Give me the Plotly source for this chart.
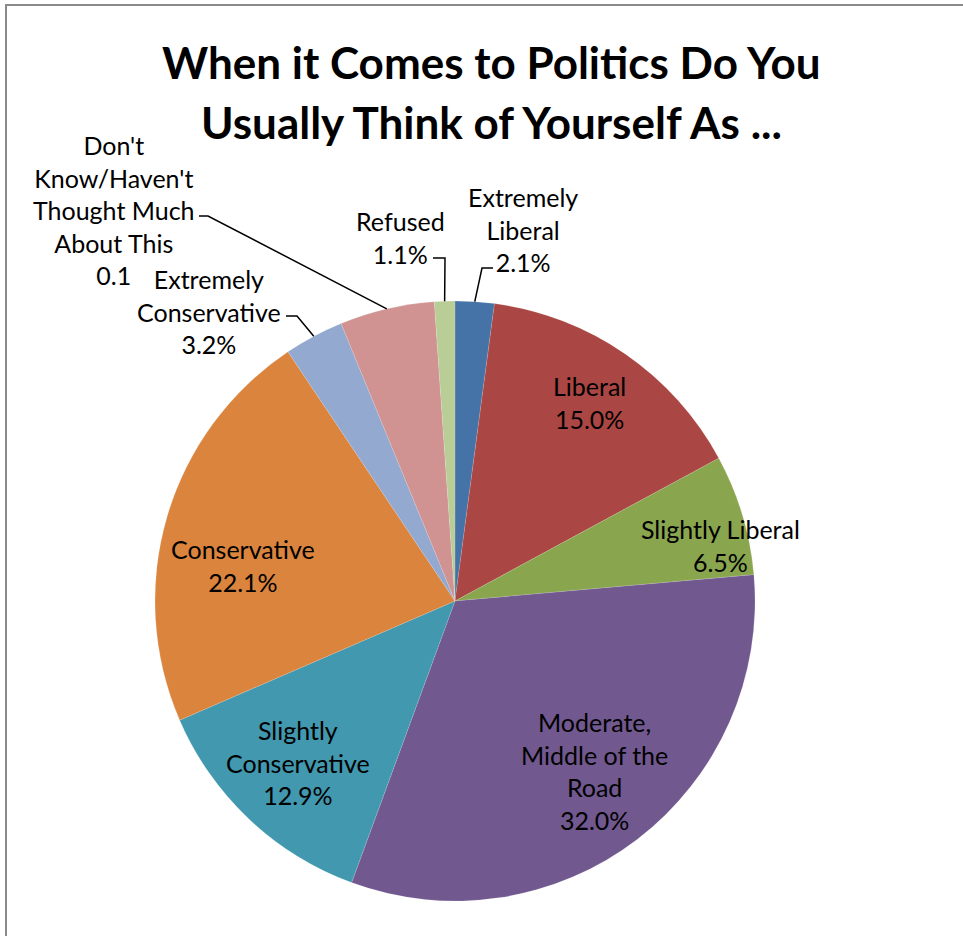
import math
import plotly.graph_objects as go

# ---- data ----
categories = ["Extremely Liberal", "Liberal", "Slightly Liberal",
              "Moderate, Middle of the Road", "Slightly Conservative",
              "Conservative", "Extremely Conservative",
              "Don't Know/Haven't Thought Much About This", "Refused"]
values = [2.1, 15.0, 6.5, 32.0, 12.9, 22.1, 3.2, 5.1, 1.1]
label_texts = ["Extremely<br>Liberal<br>2.1%", "Liberal<br>15.0%",
               "Slightly Liberal<br>6.5%",
               "Moderate,<br>Middle of the<br>Road<br>32.0%",
               "Slightly<br>Conservative<br>12.9%", "Conservative<br>22.1%",
               "Extremely<br>Conservative<br>3.2%",
               "Don't<br>Know/Haven't<br>Thought Much<br>About This<br>0.1",
               "Refused<br>1.1%"]
colors = ["#4572A7", "#AA4643", "#89A54E", "#71588F", "#4198AF",
          "#DB843D", "#93A9CF", "#D19392", "#B9CD96"]
title_lines = ["When it Comes to Politics Do You", "Usually Think of Yourself As ..."]

# ---- layout geometry (pixels) ----
W, H = 963, 936
CX, CY, R = 455, 601, 300
# label centres (px) and leader elbow (px) for outside labels (None = inside)
label_pos = [(523, 229), (589, 402), (720, 545), (594, 771), (298, 762),
             (243, 565), (209, 312), (114, 210), (400, 237)]
leader = [[(493, 268), (482, 268)], None, None, None, None, None,
          [(286, 316), (297, 316)], [(199, 216), (208, 216)],
          [(433, 258), (445, 258)]]

def px(x):
    return x / W

def py(y):
    return 1 - y / H

FONT = "Lato"

fig = go.Figure(go.Pie(
    labels=categories, values=values, sort=False, direction="clockwise",
    rotation=0, marker=dict(colors=colors, line=dict(color="rgba(255,255,255,0.25)", width=0.5)),
    textinfo="none", hoverinfo="label+percent", showlegend=False,
    domain=dict(x=[px(CX - R), px(CX + R)], y=[py(CY + R), py(CY - R)]),
))

annotations = []
shapes = []
total = sum(values)
cum = 0.0
for i, v in enumerate(values):
    mid = (cum + v / 2) / total * 2 * math.pi
    cum += v
    lx, ly = label_pos[i]
    annotations.append(dict(x=px(lx), y=py(ly), xref="paper", yref="paper",
                            text=label_texts[i], showarrow=False,
                            font=dict(family=FONT, size=25, color="black"),
                            xanchor="center", yanchor="middle", align="center"))
    if leader[i] is not None:
        ex = CX + R * math.sin(mid)
        ey = CY - R * math.cos(mid)
        pts = leader[i] + [(ex, ey)]
        path = "M " + " L ".join(f"{px(a)},{py(b)}" for a, b in pts)
        shapes.append(dict(type="path", xref="paper", yref="paper", path=path,
                           line=dict(color="black", width=1.5)))

for j, t in enumerate(title_lines):
    annotations.append(dict(x=px(492), y=py(62 + 60 * j), xref="paper", yref="paper",
                            text=f"<b>{t}</b>", showarrow=False,
                            font=dict(family=FONT, size=44, color="black"),
                            xanchor="center", yanchor="middle"))

# chart border
shapes.append(dict(type="rect", xref="paper", yref="paper",
                   x0=px(6), x1=1.05, y0=-0.05, y1=py(5),
                   line=dict(color="#8a8a8a", width=2)))

fig.update_layout(width=W, height=H, margin=dict(l=0, r=0, t=0, b=0),
                  paper_bgcolor="white", plot_bgcolor="white",
                  annotations=annotations, shapes=shapes)
fig.write_html("out.html")
